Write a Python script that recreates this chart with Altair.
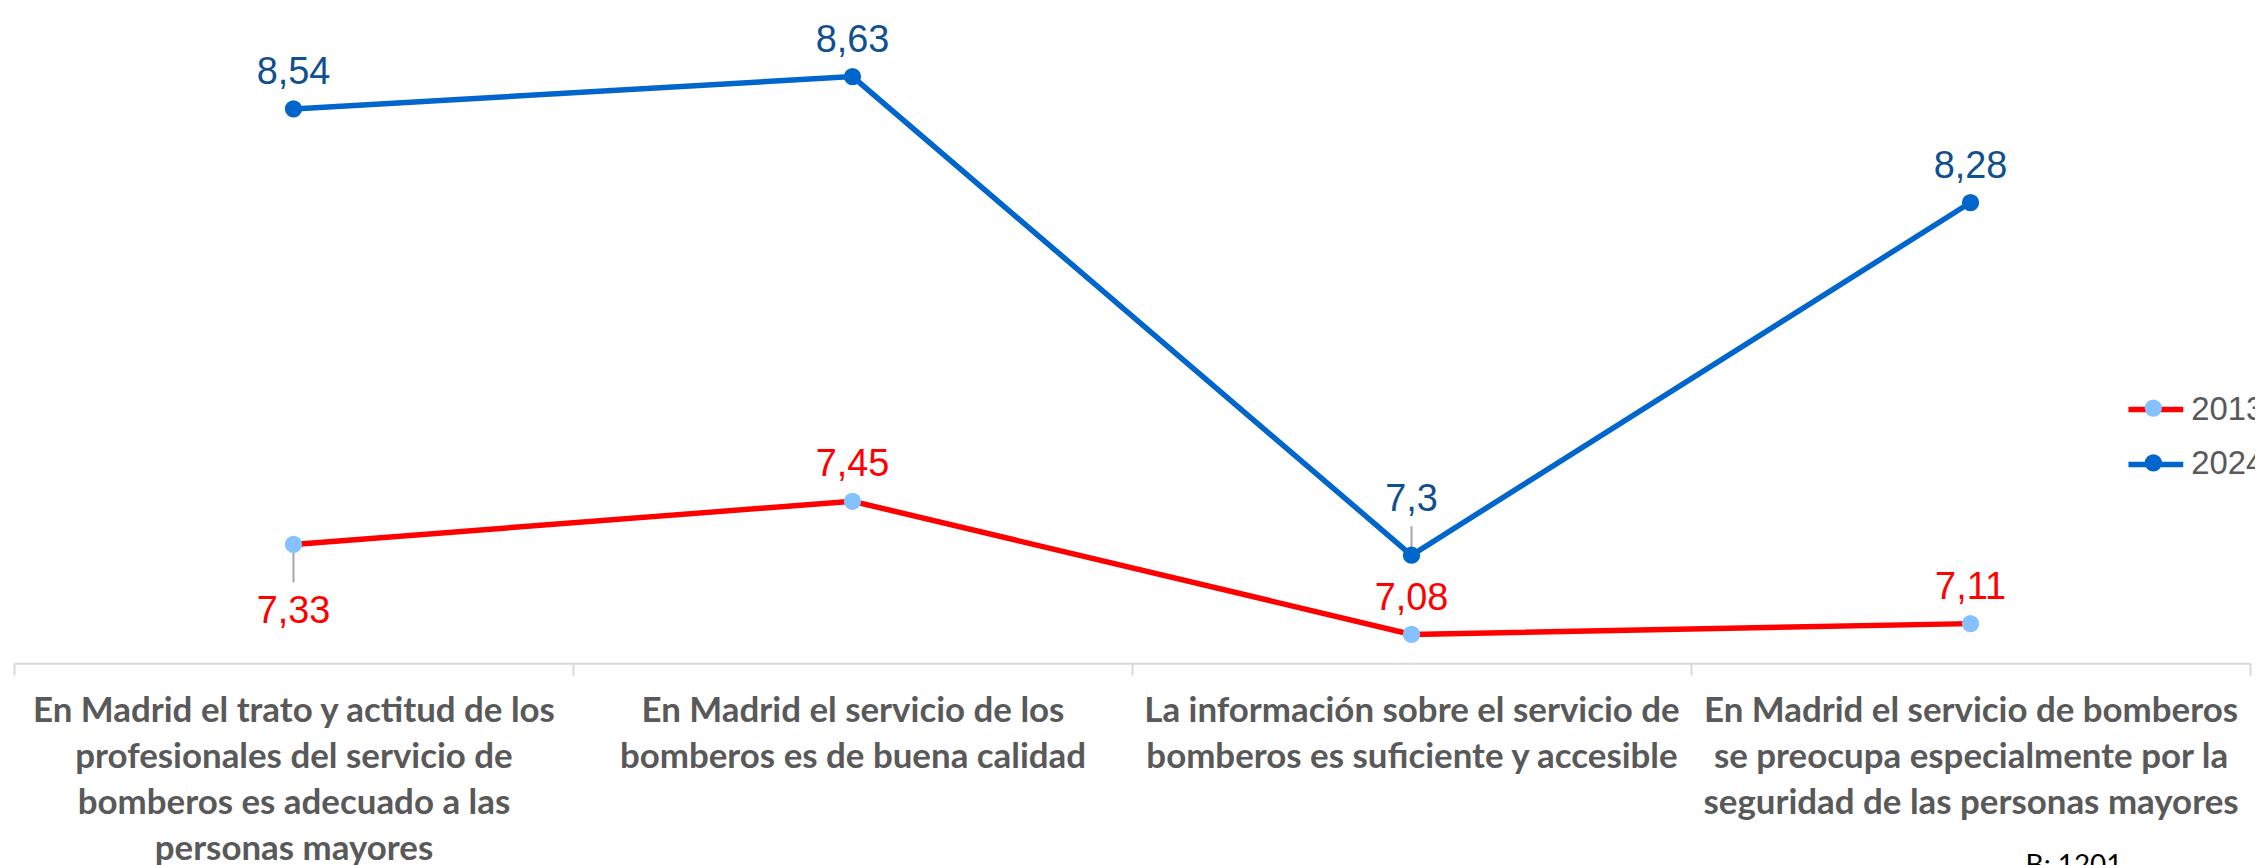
import altair as alt
import pandas as pd

categories = [
    "En Madrid el trato y actitud de los|profesionales del servicio de|bomberos es adecuado a las|personas mayores",
    "En Madrid el servicio de los|bomberos es de buena calidad",
    "La información sobre el servicio de|bomberos es suficiente y accesible",
    "En Madrid el servicio de bomberos|se preocupa especialmente por la|seguridad de las personas mayores",
]
series_names = ["2013", "2024"]
values_2013 = [7.33, 7.45, 7.08, 7.11]
values_2024 = [8.54, 8.63, 7.30, 8.28]
note = "B: 1201"

rows = []
for s, vals in zip(series_names, [values_2013, values_2024]):
    for i, (c, v) in enumerate(zip(categories, vals)):
        rows.append({
            "cat": c, "idx": i, "series": s, "series_pt": s, "value": v,
            "label": f"{v:g}".replace(".", ","),
        })
df = pd.DataFrame(rows)

line_colors = ["#FF0000", "#0066CC"]
point_colors = ["#85C1FF", "#0066CC"]
label_colors = ["#FF0000", "#104F90"]

x = alt.X(
    "cat:N", sort=categories,
    scale=alt.Scale(type="band", paddingInner=0, paddingOuter=0),
    axis=alt.Axis(
        title=None, labelExpr="split(datum.label, '|')", labelAngle=0,
        labelFont="Lato", labelFontWeight="bold", labelFontSize=35,
        labelLineHeight=46, labelColor="#595959", labelLimit=700,
        labelPadding=19, domainColor="#D9D9D9", domainWidth=2,
        tickColor="#D9D9D9", tickWidth=2, tickSize=12, tickBand="extent",
        grid=False,
    ),
)
y = alt.Y("value:Q", scale=alt.Scale(domain=[7, 8.7], zero=False, nice=False), axis=None)

base = alt.Chart(df).encode(x=x, y=y)

lines = base.mark_line(strokeWidth=5.5).encode(
    stroke=alt.Stroke(
        "series:N", scale=alt.Scale(domain=series_names, range=line_colors),
        legend=alt.Legend(
            title=None, orient="none", legendX=2119, legendY=329,
            symbolType="stroke", symbolSize=3025, symbolStrokeWidth=5.5,
            labelFont="Liberation Sans", labelFontSize=33, labelColor="#595959",
            labelOffset=5, rowPadding=7,
        ),
    )
)

points = base.mark_circle(size=300, opacity=1).encode(
    fill=alt.Fill(
        "series_pt:N", scale=alt.Scale(range=point_colors),
        legend=alt.Legend(
            title=None, orient="none", legendX=2119, legendY=349,
            symbolType="circle", symbolSize=300, symbolOffset=19,
            symbolStrokeWidth=0, labelFont="Liberation Sans", labelFontSize=1,
            labelExpr="''", labelOffset=0, rowPadding=37,
        ),
    )
)

text_color = alt.Color("series:N", scale=alt.Scale(domain=series_names, range=label_colors), legend=None)
is_below = "datum.series == '2013' && datum.idx == 0"
is_far = "datum.series == '2024' && datum.idx == 2"

labels_main = base.mark_text(font="Liberation Sans", fontSize=38, baseline="alphabetic", dy=-25).encode(
    text="label:N", color=text_color
).transform_filter(f"!({is_below}) && !({is_far})")

labels_below = base.mark_text(font="Liberation Sans", fontSize=38, baseline="alphabetic", dy=79).encode(
    text="label:N", color=text_color
).transform_filter(is_below)

labels_far = base.mark_text(font="Liberation Sans", fontSize=38, baseline="alphabetic", dy=-44).encode(
    text="label:N", color=text_color
).transform_filter(is_far)

leader_below = base.mark_rule(color="#A6A6A6", strokeWidth=2, yOffset=3, y2Offset=38).encode(
    y2=alt.Y2("value:Q")
).transform_filter(is_below)

leader_far = base.mark_rule(color="#A6A6A6", strokeWidth=2, yOffset=-29, y2Offset=-5).encode(
    y2=alt.Y2("value:Q")
).transform_filter(is_far)

chart = alt.layer(
    lines, leader_below, leader_far, points, labels_main, labels_below, labels_far
).resolve_scale(color="independent").properties(
    width=2244, height=614,
    autosize=alt.AutoSizeParams(type="none"),
    padding={"left": 6, "top": 42, "right": 5, "bottom": 209},
    background="white",
    title=alt.TitleParams(
        note, orient="bottom", anchor="end", font="Lato", fontSize=28,
        fontWeight="normal", color="#000000", dx=-143, offset=-14,
    ),
).configure_view(stroke=None)

chart.save("out.html", embed_options={"renderer": "svg", "actions": False})
